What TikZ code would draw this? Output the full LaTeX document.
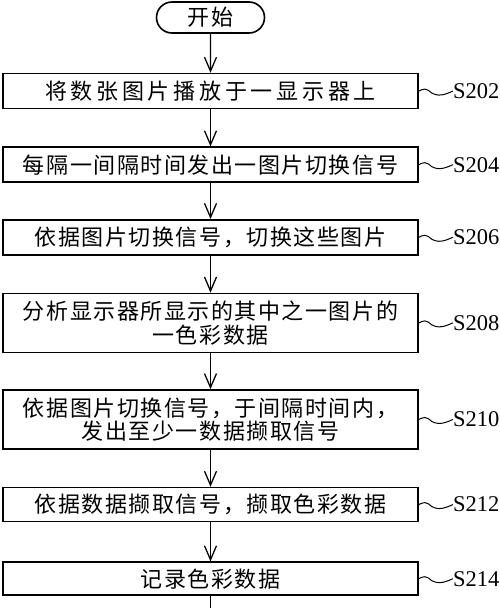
\documentclass[tikz,border=0pt]{standalone}
\usepackage{fontspec}
\setmainfont{Liberation Serif}
\newfontfamily\cjk{Noto Sans CJK SC}[LetterSpace=7]
\usetikzlibrary{positioning,arrows.meta,shapes.misc}

\begin{document}
\begin{tikzpicture}[x=1pt,y=1pt,>={Straight Barb[length=14pt,width=12pt]},
    box/.style={draw,line width=1.6pt,minimum width=415pt,minimum height=35pt,inner sep=0pt,align=center,font=\cjk\fontsize{22}{23.5}\selectfont},
    tag/.style={inner sep=0pt,font=\fontsize{22.5}{26}\selectfont},
    wave/.style={line width=1pt}]
        \useasboundingbox (0,0) rectangle (500,-608);
        \node[draw,line width=1.6pt,rounded rectangle,minimum width=108pt,minimum height=31pt,inner sep=0pt,font=\cjk\fontsize{22}{23.5}\selectfont] (start) at (210.5,-17.5) {开始};
        \node[box,below=39pt of start] (s202) {\addfontfeatures{LetterSpace=17}将数张图片播放于一显示器上};
        \node[box,below=37pt of s202] (s204) {每隔一间隔时间发出一图片切换信号};
        \node[box,below=36pt of s204] (s206) {依据图片切换信号，切换这些图片};
        \node[box,below=37pt of s206,minimum height=59pt] (s208) {分析显示器所显示的其中之一图片的\\一色彩数据};
        \node[box,below=36pt of s208,minimum height=59pt] (s210) {依据图片切换信号，于间隔时间内，\\发出至少一数据撷取信号};
        \node[box,below=37pt of s210,minimum height=34pt] (s212) {依据数据撷取信号，撷取色彩数据};
        \node[box,below=39pt of s212,minimum height=33pt] (s214) {记录色彩数据};
        \coordinate[below=34pt of s214] (next);
        % arrows between the steps
        \foreach \a/\b in {start/s202,s202/s204,s204/s206,s206/s208,s208/s210,s210/s212,s212/s214,s214/next}
            \draw[->,line width=1.3pt] (\a) -- (\b);
        % step numbers
        \foreach \n in {202,204,...,214}{
            \node[tag,right=34pt of s\n] (l\n) {S\n};
            \draw[wave] (s\n.east) sin ++(6,2) cos ++(7,-4) sin ++(7,-2) cos (l\n.west);
        }
    \end{tikzpicture}
\end{document}
